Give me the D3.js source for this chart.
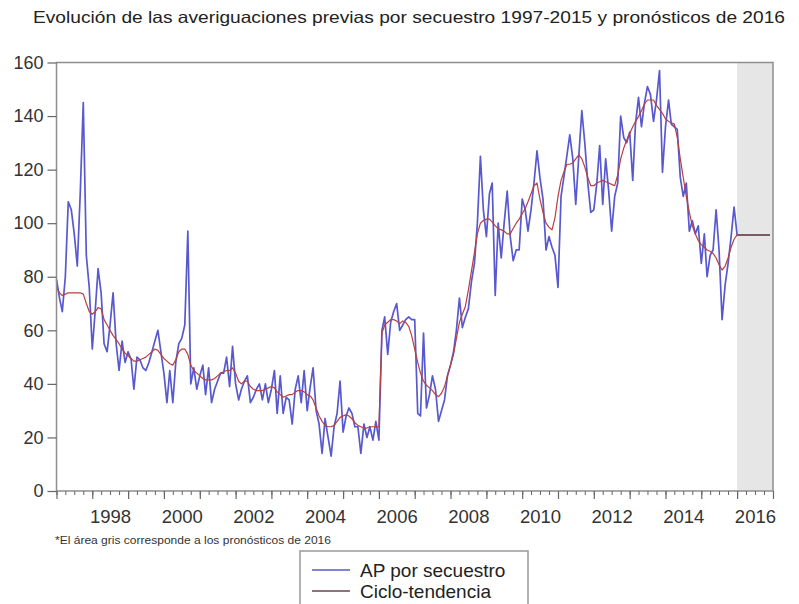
<!DOCTYPE html>
<html><head><meta charset="utf-8">
<script src="https://cdn.jsdelivr.net/npm/d3@7"></script>
<style>
body{margin:0;background:#fff}
svg{display:block;font-family:"Liberation Sans",Arial,Helvetica,sans-serif}
</style>
</head><body>
<svg id="chart" width="799" height="604"></svg>
<script>
// ---------- DATA ----------
const titleText = "Evolución de las averiguaciones previas por secuestro 1997-2015 y pronósticos de 2016";
const footnoteText = "*El área gris corresponde a los pronósticos de 2016";
const seriesNames = ["AP por secuestro", "Ciclo-tendencia"];
const startYear = 1997;
const forecastYear = 2016;

// monthly values Jan 1997 - Dec 2015
const apSecuestro = [
 79, 72, 67, 80, 108, 105, 96, 84, 112, 145,
 88, 76, 53, 68, 83, 74, 55, 52, 62, 74,
 55, 45, 56, 48, 52, 49, 38, 50, 49, 46,
 45, 48, 52, 56, 60, 52, 44, 33, 45, 33,
 48, 55, 57, 62, 97, 40, 46, 38, 43, 47,
 36, 46, 33, 38, 41, 44, 44, 50, 39, 54,
 40, 34, 38, 41, 43, 33, 35, 38, 40, 34,
 40, 33, 38, 45, 29, 43, 29, 35, 34, 25,
 38, 43, 33, 45, 30, 39, 46, 30, 25, 14,
 27, 20, 13, 24, 29, 41, 22, 28, 31, 29,
 24, 24, 14, 25, 20, 24, 19, 26, 19, 60,
 65, 51, 63, 67, 70, 60, 62, 64, 65, 64,
 64, 29, 28, 59, 31, 36, 43, 38, 26, 30,
 34, 43, 47, 52, 60, 72, 61, 65, 68, 78,
 85, 100, 125, 105, 95, 111, 115, 73, 100, 87,
 100, 112, 95, 86, 90, 90, 109, 105, 97, 105,
 115, 127, 117, 109, 90, 95, 91, 88, 76, 110,
 117, 125, 133, 124, 107, 125, 142, 130, 115, 104,
 105, 115, 129, 107, 124, 112, 97, 110, 115, 140,
 132, 130, 134, 116, 137, 147, 136, 145, 151, 148,
 138, 146, 157, 119, 136, 146, 137, 136, 135, 117,
 110, 115, 97, 101, 96, 99, 85, 96, 80, 88,
 90, 105, 90, 64, 77, 85, 95, 106
];

const cicloTendencia = [
 76, 74, 73, 73.5, 74, 74, 74, 74, 74, 73.5,
 70, 67, 66, 67, 68.5, 68, 64, 62, 60, 58,
 56.5, 55, 53, 51.5, 50.5, 49.5, 48.5, 48.5, 49, 49.5,
 50, 51, 52, 53, 52.5, 51, 49.5, 48.5, 47.5, 47,
 49, 52, 53, 53, 51, 47, 45, 44, 43, 42,
 41.5, 41.5, 41.5, 42, 43, 44, 44.5, 45, 45, 46,
 44, 41, 40, 41, 41, 39, 38, 37.5, 37.5, 37.5,
 38, 38.5, 39, 38.5, 37, 36, 35, 35.5, 36, 36,
 37, 37.5, 37.5, 37, 36, 35.5, 34, 31, 28, 26,
 24.5, 24, 24, 24.5, 26, 27.5, 28, 28.5, 28, 27,
 25.5, 24.5, 24, 23.5, 23.5, 24, 24, 24, 24, 59,
 62, 63, 64, 64, 63.5, 62.5, 63.5, 63, 61.5, 58,
 53, 48, 44, 41, 39.5, 38.5, 37.5, 36, 35.2, 36.5,
 39, 43, 47, 51, 57, 63, 66, 69, 75, 82,
 89, 96, 100, 101, 101.5, 101.5, 100.5, 99, 98, 97.5,
 97, 96, 96, 98, 100, 101.5, 103.5, 105.5, 108, 111,
 114, 115, 109, 104, 100, 98.5, 97.5, 102, 110, 116,
 119, 122, 122, 122.5, 124, 125.5, 124, 121, 117, 114,
 114, 115, 115.5, 116, 115.5, 115, 114.5, 114, 118, 124,
 128, 131, 133.5, 136, 138, 139.8, 142, 144.5, 146, 146,
 146, 144, 142.5, 141, 139, 138, 137.5, 137, 132, 124,
 117, 110, 104, 99, 96, 93.5, 92, 91, 90, 89.5,
 88.7, 87, 84.5, 82.5, 84, 87, 91, 94
];

// monthly forecast Jan 2016 - Dec 2016
const pronostico2016 = [95.6, 95.6, 95.6, 95.6, 95.6, 95.6, 95.6, 95.6, 95.6, 95.6, 95.6, 95.6];

const yTickValues = [0, 20, 40, 60, 80, 100, 120, 140, 160];
const xLabelYears = [1998, 2000, 2002, 2004, 2006, 2008, 2010, 2012, 2014, 2016];

// ---------- LAYOUT ----------
const L = 56.5, R = 773, T = 62.5, B = 491;
const blue = "#5858cf", red = "#b8403f", frameC = "#8e8e8e";

const svg = d3.select("#chart");
const monthDate = m => new Date(Date.UTC(startYear, m, 1));

const x = d3.scaleUtc()
  .domain([monthDate(0), new Date(Date.UTC(forecastYear + 1, 0, 1))])
  .range([L, R]);
const y = d3.scaleLinear().domain([0, 160]).range([B, T]);

// title
svg.append("text")
  .attr("x", 409).attr("y", 23)
  .attr("text-anchor", "middle")
  .attr("font-size", 16.5).attr("fill", "#222")
  .attr("textLength", 752).attr("lengthAdjust", "spacingAndGlyphs")
  .text(titleText);

// forecast shading
const fcStart = x(new Date(Date.UTC(forecastYear, 0, 1)));
svg.append("rect")
  .attr("x", fcStart).attr("y", T)
  .attr("width", R - fcStart).attr("height", B - T)
  .attr("fill", "#e6e6e6");

// data
const nObs = apSecuestro.length;
const blueData = apSecuestro.concat(pronostico2016).map((v, i) => ({d: monthDate(i), v}));
const trendData = cicloTendencia.concat(pronostico2016).map((v, i) => ({d: monthDate(i), v}));
const fcData = pronostico2016.map((v, i) => ({d: monthDate(nObs + i), v}));

const line = d3.line().x(p => x(p.d)).y(p => y(p.v));

svg.append("path").datum(blueData)
  .attr("d", line).attr("fill", "none")
  .attr("stroke", blue).attr("stroke-width", 1.7).attr("stroke-linejoin", "round");

svg.append("path").datum(trendData)
  .attr("d", line).attr("fill", "none")
  .attr("stroke", red).attr("stroke-width", 1.2).attr("stroke-linejoin", "round");

svg.append("path").datum(fcData)
  .attr("d", line).attr("fill", "none")
  .attr("stroke", "#7a5a66").attr("stroke-width", 2);

// frame
svg.append("rect")
  .attr("x", L).attr("y", T).attr("width", R - L).attr("height", B - T)
  .attr("fill", "none").attr("stroke", frameC).attr("stroke-width", 1.5);

// y axis
const yAxis = svg.append("g")
  .attr("transform", `translate(${L},0)`)
  .call(d3.axisLeft(y).tickValues(yTickValues).tickSize(9).tickPadding(4));
yAxis.select(".domain").remove();
yAxis.selectAll("line").attr("stroke", "#666").attr("stroke-width", 1.2);
yAxis.selectAll("text").attr("font-size", 18).attr("fill", "#333")
  .attr("font-family", "'Liberation Sans', Arial, sans-serif");

// x axis: year ticks, quarter ticks, labels
const yearDates = d3.range(startYear, forecastYear + 2).map(yr => new Date(Date.UTC(yr, 0, 1)));
const quarterDates = d3.utcMonth.every(3).range(monthDate(0), new Date(Date.UTC(forecastYear + 1, 0, 2)));

const xq = svg.append("g").attr("transform", `translate(0,${B})`)
  .call(d3.axisBottom(x).tickValues(quarterDates).tickSize(4).tickFormat(""));
xq.select(".domain").remove();
xq.selectAll("line").attr("stroke", "#666");

const xy = svg.append("g").attr("transform", `translate(0,${B})`)
  .call(d3.axisBottom(x).tickValues(yearDates).tickSize(8).tickFormat(""));
xy.select(".domain").remove();
xy.selectAll("line").attr("stroke", "#666").attr("stroke-width", 1.2);

const xl = svg.append("g").attr("transform", `translate(0,${B})`)
  .call(d3.axisBottom(x)
    .tickValues(xLabelYears.map(yr => new Date(Date.UTC(yr, 6, 1))))
    .tickSize(0).tickPadding(19)
    .tickFormat(d3.utcFormat("%Y")));
xl.select(".domain").remove();
xl.selectAll("text").attr("font-size", 18.5).attr("fill", "#333")
  .attr("font-family", "'Liberation Sans', Arial, sans-serif");

// footnote
svg.append("text")
  .attr("x", 55).attr("y", 544)
  .attr("font-size", 10).attr("fill", "#333")
  .attr("textLength", 276).attr("lengthAdjust", "spacingAndGlyphs")
  .text(footnoteText);

// legend
const lg = svg.append("g");
lg.append("rect").attr("x", 300).attr("y", 551).attr("width", 228).attr("height", 62)
  .attr("fill", "#fff").attr("stroke", "#999").attr("stroke-width", 1.5);
const legendColors = [blue, "#6a4450"];
seriesNames.forEach((name, i) => {
  const ly = 570 + i * 21;
  lg.append("line").attr("x1", 312).attr("x2", 350).attr("y1", ly).attr("y2", ly)
    .attr("stroke", legendColors[i]).attr("stroke-width", 1.3);
  lg.append("text").attr("x", 360).attr("y", ly + 6.5)
    .attr("font-size", 19).attr("fill", "#222").text(name);
});
</script>
</body></html>
